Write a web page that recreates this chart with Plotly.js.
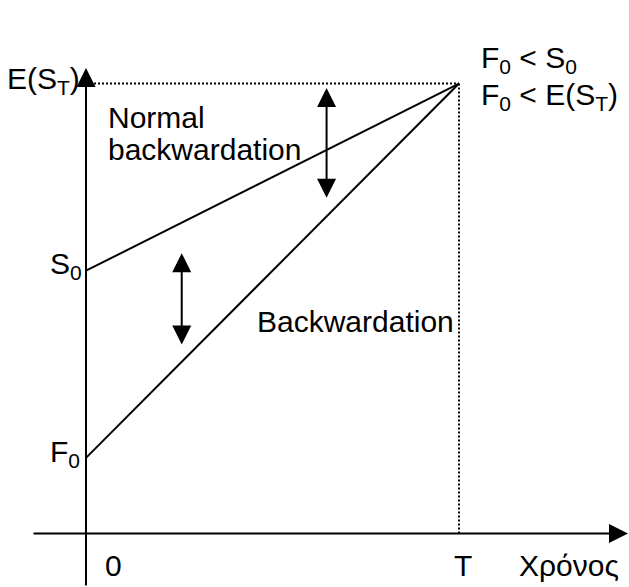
<!DOCTYPE html>
<html>
<head>
<meta charset="utf-8">
<script src="https://cdn.plot.ly/plotly-3.0.1.min.js"></script>
<style>html,body{margin:0;padding:0;background:#fff;}#chart{width:629px;height:587px;}</style>
</head>
<body>
<div id="chart"></div>
<script>
// Time points: 0 and T (T normalised to 1)
const times = [0, 1];
const timeLabels = ['0', 'T'];
// Price levels (E(S_T) normalised to 1)
const F0 = 0.168;
const S0 = 0.584;
const EST = 1.0;
const spotLine = [S0, EST];      // expected spot price path
const futuresLine = [F0, EST];   // futures price path
const levelLabels = ['F<sub>0</sub>', 'S<sub>0</sub>', 'E(S<sub>T</sub>)'];
const levelValues = [F0, S0, EST];

const black = '#000';
const font = {family: 'Liberation Sans, Arial, sans-serif', size: 30, color: black};

const traces = [
  {x: times, y: spotLine, mode: 'lines', line: {color: black, width: 2}, hoverinfo: 'skip'},
  {x: times, y: futuresLine, mode: 'lines', line: {color: black, width: 2}, hoverinfo: 'skip'},
  {x: [times[0], times[1]], y: [EST, EST], mode: 'lines', line: {color: black, width: 2, dash: '2px,2px'}, hoverinfo: 'skip'},
  {x: [times[1], times[1]], y: [EST, 0], mode: 'lines', line: {color: black, width: 2, dash: '2px,2px'}, hoverinfo: 'skip'}
];

const xr = [-0.2306, 1.4558];
const yr = [-0.1189, 1.1856];

function arrow(x, y, ax, ay, both) {
  const a = {x: x, y: y, ax: ax, ay: ay, xref: 'x', yref: 'y', axref: 'x', ayref: 'y',
    text: '', showarrow: true, arrowhead: 2, arrowsize: 1.9, arrowwidth: 2, arrowcolor: black, standoff: 0};
  if (both) { a.arrowside = 'end+start'; a.startarrowhead = 2; a.startarrowsize = 1.9; a.startstandoff = 0; }
  return a;
}
function label(text, x, y, xanchor) {
  return {x: x, y: y, xref: 'x', yref: 'y', text: text, showarrow: false, xanchor: xanchor, yanchor: 'middle', font: font};
}

const annotations = [
  arrow(0, 1.0344, 0, yr[0], false),          // y axis
  arrow(1.4531, 0, -0.1448, 0, false),         // x axis
  arrow(0.645, 0.990, 0.645, 0.743, true),
  arrow(0.2566, 0.623, 0.2566, 0.4167, true),
  label(levelLabels[2], -0.0107, 1.0078, 'right'),
  label(levelLabels[1], -0.1019, 0.5949, 'left'),
  label(levelLabels[0], -0.1019, 0.1782, 'left'),
  label(timeLabels[0], 0.0724, -0.0722, 'center'),
  label(timeLabels[1], 1.0107, -0.0722, 'center'),
  label('Χρόνος', 1.1547, -0.0722, 'left'),
  label('Normal', 0.0536, 0.9244, 'left'),
  label('backwardation', 0.0536, 0.854, 'left'),
  label('Backwardation', 0.4531, 0.4707, 'left'),
  label('F<sub>0</sub> < S<sub>0</sub>', 1.0536, 1.0544, 'left'),
  label('F<sub>0</sub> < E(S<sub>T</sub>)', 1.0536, 0.9707, 'left')
];

const layout = {
  width: 629, height: 587,
  margin: {l: 0, r: 0, t: 0, b: 0},
  paper_bgcolor: '#fff', plot_bgcolor: '#fff',
  showlegend: false,
  xaxis: {range: xr, visible: false, fixedrange: true},
  yaxis: {range: yr, visible: false, fixedrange: true},
  annotations: annotations
};

Plotly.newPlot('chart', traces, layout, {staticPlot: true, displayModeBar: false});
</script>
</body>
</html>
